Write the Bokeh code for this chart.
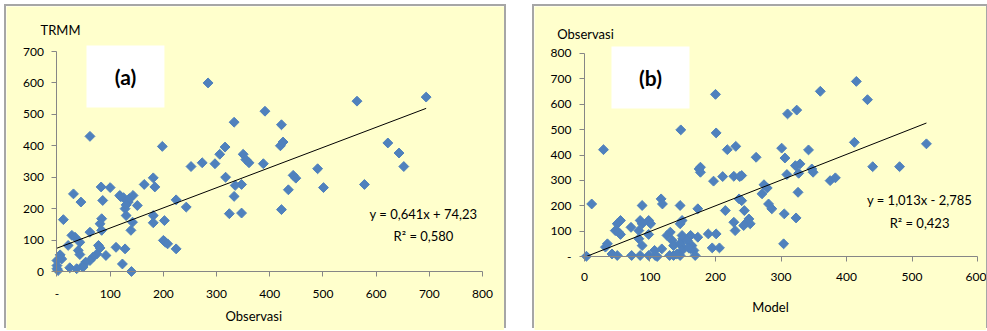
import numpy as np
from bokeh.plotting import figure
from bokeh.models import (FixedTicker, Label, BoxAnnotation, Range1d, Spacer, LinearAxis)
from bokeh.layouts import row, column
from bokeh.embed import file_html
from bokeh.resources import INLINE

# ---------------- data: panel (a) ----------------
a_x = [62, 284, 333, 198, 316, 306, 252, 273, 297, 350, 355,
       564, 694, 391, 422, 420, 425, 361, 388, 490, 622, 643, 652,
       444, 449, 435, 501, 578, 422, 347, 347,
       317, 335, 333, 324,
       12, 31, 45, 83, 100, 86,
       118, 143, 134, 151, 128, 130, 142, 139, 125, 136, 130, 120,
       164, 181, 184, 181, 181, 202, 224, 243,
       200, 204, 208, 224, 111, 128, 123, 140,
       84, 81, 84, 78, 81, 92, 75, 68, 62, 54, 49,
       62, 43, 28, 34, 21, 40, 43, 37, 24, 49,
       6, 9, 0, 0, 0, 2]
a_y = [430, 600, 475, 398, 396, 373, 334, 346, 343, 373, 356,
       542, 555, 510, 467, 400, 412, 346, 343, 327, 409, 377, 334,
       306, 297, 260, 267, 277, 197, 277, 186,
       300, 274, 239, 184,
       165, 247, 221, 269, 267, 226,
       242, 242, 221, 210, 200, 178, 157, 131, 235, 232, 212, 238,
       277, 298, 269, 178, 155, 162, 228, 205,
       99, 93, 88, 72, 77, 72, 24, 0,
       168, 152, 131, 83, 75, 51, 56, 46, 35, 30, 19,
       125, 93, 115, 109, 83, 67, 54, 9, 12, 14,
       53, 40, 35, 19, 9, 3]
a_xticks = [0, 100, 200, 300, 400, 500, 600, 700, 800]
a_yticks = [0, 100, 200, 300, 400, 500, 600, 700]
a_slope, a_icpt = 0.641, 74.23
a_eq = "y = 0,641x + 74,23"
a_r2 = "R\u00b2 = 0,580"
a_tag = "(a)"
a_ytitle = "TRMM"
a_xtitle = "Observasi"

# ---------------- data: panel (b) ----------------
b_x = [29, 147, 200, 201, 218, 231, 177,
       415, 360, 432, 324, 310, 412, 522, 301, 342, 262, 306, 322, 329, 440, 481, 347,
       349, 309, 327, 375, 383, 274, 271, 279, 281, 286, 326, 305, 323, 304,
       240, 240, 244, 248, 253, 243, 251,
       175, 177, 211, 197, 228, 237, 236, 215, 230, 228,
       173, 146, 149, 146, 117, 119, 88, 11,
       85, 88, 83, 98, 101,
       55, 50, 47, 52, 55, 71,
       35, 32, 42, 50, 72,
       83, 88, 98, 85, 98, 108, 111, 107, 118,
       131, 126, 134, 136,
       149, 150, 146, 150, 149, 146,
       162, 164, 162, 167, 169, 157, 159, 173,
       130, 136, 141, 189, 201, 195, 206, 3]
b_y = [421, 499, 639, 487, 421, 434, 352,
       690, 651, 618, 577, 562, 450, 444, 427, 420, 391, 388, 358, 365, 354, 354, 345,
       332, 323, 328, 299, 310, 283, 247, 270, 207, 188, 253, 168, 152, 50,
       319, 220, 181, 135, 129, 122, 148,
       345, 332, 315, 297, 316, 315, 227, 181, 102, 135,
       188, 201, 142, 129, 227, 207, 201, 207,
       142, 129, 102, 142, 129,
       142, 129, 102, 96, 87, 115,
       50, 37, 10, 4, 4,
       70, 43, 87, 4, 4, 4, 0, 24, 30,
       96, 83, 63, 43,
       83, 70, 50, 37, 24, 4,
       83, 43, 30, 24, 4, 63, 34, 76,
       4, 4, 10, 89, 89, 34, 34, 1]
b_xticks = [0, 100, 200, 300, 400, 500, 600]
b_yticks = [0, 100, 200, 300, 400, 500, 600, 700, 800]
b_slope, b_icpt = 1.013, -2.785
b_eq = "y = 1,013x - 2,785"
b_r2 = "R\u00b2 = 0,423"
b_tag = "(b)"
b_ytitle = "Observasi"
b_xtitle = "Model"

FONT = "Lato"
BG = "#FFFFCC"
BLUE = "#4F81BD"
AXIS = "#868686"
H = 324


def lab(p, x, y, text, size, bold=False):
    p.add_layout(Label(x=x, y=y, text=text, text_font=FONT, text_font_size=size,
                       text_font_style="bold" if bold else "normal",
                       text_align="center", text_baseline="middle", text_color="#000000"))


def panel(xs, ys, width, xr, yr, xticks, yticks, xo, yo, xstand, ystand,
          slope, icpt, eq, r2, eqpos, tag, box, tagpos, ytitle, ytpos, xtitle, xtpos):
    p = figure(width=width, height=H, output_backend="svg", toolbar_location=None,
               x_range=Range1d(*xr), y_range=Range1d(*yr), title=None,
               x_axis_location=None, y_axis_location=None,
               min_border_left=0, min_border_right=0, min_border_top=0, min_border_bottom=0)
    p.background_fill_color = BG
    p.border_fill_color = BG
    p.outline_line_color = None
    p.grid.visible = False

    for side, ticks, ov, st in (("below", xticks, xo, xstand), ("left", yticks, yo, ystand)):
        ax = LinearAxis(fixed_location=0, bounds=(ticks[0], ticks[-1]),
                        ticker=FixedTicker(ticks=ticks), major_label_overrides=ov,
                        major_tick_in=0, major_tick_out=5, minor_tick_line_color=None,
                        axis_line_color=AXIS, major_tick_line_color=AXIS,
                        major_label_standoff=st, major_label_text_font=FONT,
                        major_label_text_font_size="12px", major_label_text_color="#000000")
        p.add_layout(ax, side)

    p.add_layout(BoxAnnotation(left=box[0], right=box[1], bottom=box[2], top=box[3],
                               fill_color="white", fill_alpha=1.0, line_color=None))
    lab(p, tagpos[0], tagpos[1], tag, "21px", bold=True)

    p.scatter(xs, ys, marker="square", angle=np.pi / 4, size=7,
              fill_color=BLUE, line_color=BLUE)
    lx = np.array([min(xs), max(xs)], dtype=float)
    p.line(lx, slope * lx + icpt, line_color="#000000", line_width=1)

    lab(p, eqpos[0], eqpos[1], eq, "13px")
    lab(p, eqpos[0], eqpos[2], r2, "13px")
    lab(p, ytpos[0], ytpos[1], ytitle, "13px")
    lab(p, xtpos[0], xtpos[1], xtitle, "13px")
    p.styles = {"box-shadow": "-2px -2px 0 0 #a6a6a6, 2px -2px 0 0 #a6a6a6"}
    return p


pa = panel(a_x, a_y, 498, (-94.9, 841.3), (-187.7, 843.2), a_xticks, a_yticks,
           {0: "-"}, {}, 13, 8,
           a_slope, a_icpt, a_eq, a_r2, (689, 184.5, 111.4),
           a_tag, (55.5, 202, 521.8, 719), (128.8, 620.4),
           a_ytitle, (6.6, 770), a_xtitle, (370, -140))

pb = panel(b_x, b_y, 452, (-76.3, 613.7), (-291.6, 985.2), b_xticks, b_yticks,
           {}, {0: "-"}, 11, 8,
           b_slope, b_icpt, b_eq, b_r2, (511.5, 224.6, 134),
           b_tag, (41.2, 160.3, 583, 827.6), (100.8, 705.4),
           b_ytitle, (1.5, 878.8), b_xtitle, (284, -200))

layout = column(Spacer(width=10, height=6),
                row(Spacer(width=6, height=H), pa, Spacer(width=30, height=H), pb))
open("out.html", "w").write(file_html(layout, INLINE))
